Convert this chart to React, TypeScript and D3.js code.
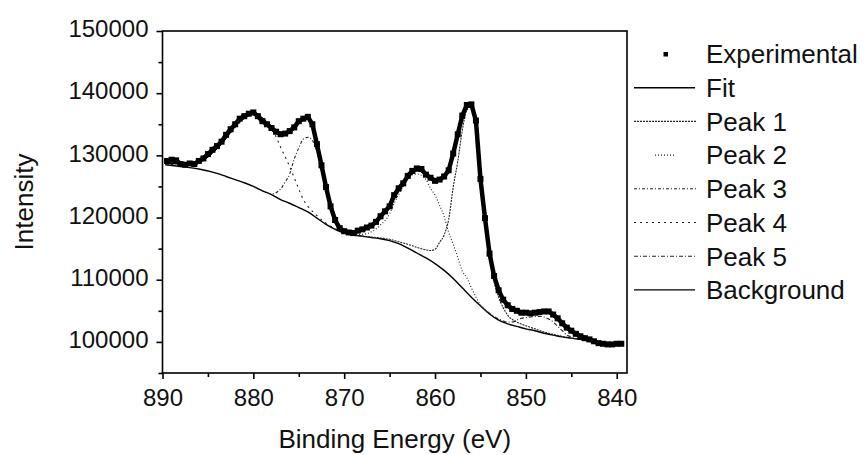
import React, { useEffect, useRef } from 'react'
import * as d3 from 'd3'

const width = 867
const height = 455
const plot = { left: 162.5, right: 627, top: 31, bottom: 373 }
const font = 'Liberation Sans, Arial, sans-serif'

const xTicks = [890, 880, 870, 860, 850, 840]
const xMinor = [885, 875, 865, 855, 845]
const yTicks = [100000, 110000, 120000, 130000, 140000, 150000]
const yMinor = [95000, 105000, 115000, 125000, 135000, 145000]

const legendLabels = ['Experimental', 'Fit', 'Peak 1', 'Peak 2', 'Peak 3', 'Peak 4', 'Peak 5', 'Background']

// [binding energy, intensity]
const experimental: [number, number][] = [
  [889.5, 129100], [889, 129300], [888.5, 129200], [888, 128600], [887.5, 128500], [887, 128700],
  [886.5, 128600], [886, 129100], [885.5, 129500], [885, 130200], [884.5, 130900], [884, 131500],
  [883.5, 132200], [883, 133300], [882.5, 134200], [882, 135000], [881.5, 135900], [881, 136300],
  [880.5, 136700], [880, 136900], [879.5, 136300], [879, 135500], [878.5, 135000], [878, 134400],
  [877.5, 133800], [877, 133400], [876.5, 133500], [876, 133900], [875.5, 134500], [875, 135500],
  [874.5, 135900], [874, 136200], [873.5, 135000], [873, 131800], [872.5, 128400], [872, 124900],
  [871.5, 121800], [871, 119600], [870.5, 118300], [870, 117800], [869.5, 117600], [869, 117500],
  [868.5, 117900], [868, 118100], [867.5, 118400], [867, 118700], [866.5, 119300], [866, 120200],
  [865.5, 121000], [865, 121800], [864.5, 123600], [864, 124700], [863.5, 125500], [863, 126700],
  [862.5, 127500], [862, 127900], [861.5, 127800], [861, 126900], [860.5, 126400], [860, 125900],
  [859.5, 126100], [859, 126600], [858.5, 127600], [858, 130300], [857.5, 133400], [857, 136400],
  [856.5, 138100], [856, 138200], [855.5, 135600], [855, 126200], [854.5, 119900], [854, 114200],
  [853.5, 110600], [853, 108300], [852.5, 106800], [852, 105900], [851.5, 105300], [851, 105000],
  [850.5, 104700], [850, 104700], [849.5, 104600], [849, 104700], [848.5, 104800], [848, 104900],
  [847.5, 104900], [847, 104400], [846.5, 103800], [846, 103000], [845.5, 102300], [845, 101800],
  [844.5, 101300], [844, 100900], [843.5, 100600], [843, 100400], [842.5, 100100], [842, 99800],
  [841.5, 99700], [841, 99600], [840.5, 99600], [840, 99700], [839.5, 99700],
]

const fit: [number, number][] = [
  [889.7, 128700], [889, 128700], [888, 128600], [887, 128600], [886, 128900], [885, 129800],
  [884, 131100], [883, 132800], [882, 134700], [881, 136100], [880, 136700], [879, 136000],
  [878, 134600], [877, 133500], [876, 133700], [875, 135200], [874.5, 135800], [874, 135900],
  [873.5, 134800], [873, 131700], [872.5, 128400], [872, 125000], [871.5, 121900], [871, 119700],
  [870.5, 118500], [870, 117900], [869, 117600], [868, 117900], [867, 118500], [866, 120000],
  [865, 121900], [864, 124300], [863, 126300], [862, 127500], [861.5, 127400], [861, 126800],
  [860.5, 126200], [860, 125800], [859.5, 125900], [859, 126500], [858.5, 127700], [858, 130200],
  [857.5, 133300], [857, 136300], [856.5, 138000], [856, 138000], [855.5, 135500], [855, 126500],
  [854.5, 120000], [854, 114300], [853.5, 110600], [853, 108300], [852.5, 106800], [852, 105800],
  [851, 105000], [850, 104600], [849, 104600], [848, 104700], [847, 104300], [846, 103100],
  [845, 101900], [844, 101000], [843, 100400], [842, 100000], [841, 99800], [840, 99600], [839.5, 99600],
]

const background: [number, number][] = [
  [889.7, 128500], [888, 128200], [886, 127800], [884, 127100], [883, 126600], [882, 126100],
  [881, 125600], [880, 125000], [879, 124300], [878, 123700], [877, 122900], [876, 122300],
  [875, 121600], [874, 120900], [873, 119900], [872, 118900], [871, 118100], [870, 117500],
  [869, 117200], [868, 117000], [867, 116800], [866, 116600], [865, 116300], [864, 115800],
  [863, 115100], [862, 114300], [861, 113500], [860, 112600], [859, 111500], [858, 110200],
  [857, 108700], [856, 107200], [855, 105800], [854, 104500], [853, 103500], [852, 102900],
  [851, 102500], [850, 102100], [849, 101800], [848, 101400], [847, 101100], [846, 100800],
  [845, 100600], [844, 100400], [843, 100100], [842, 99900], [841, 99700], [840, 99600], [839.5, 99600],
]

const peak1: [number, number][] = [
  [870, 117500], [868, 117000], [866, 116700], [865, 116500], [864, 116100], [863, 115700],
  [862, 115200], [861, 114800], [860.5, 114700], [860, 114900], [859.5, 116000], [859, 117200],
  [858.5, 119700], [858, 124900], [857.5, 129000], [857, 134000], [856.5, 137300], [856, 137800],
  [855.5, 135300], [855, 126000], [854.5, 119400], [854, 113700], [853.5, 109700], [853, 107200],
  [852.5, 105500], [852, 104300], [851, 103200], [850, 102600], [849, 102100], [848, 101600],
  [847, 101200], [846, 100900], [845, 100600], [844, 100400], [843, 100100], [842, 99900],
  [841, 99700], [840, 99600],
]

const peak2: [number, number][] = [
  [870, 117500], [869, 117300], [868, 117300], [867, 117700], [866, 118800],
  [865, 120600], [864.5, 122300], [864, 123700], [863.5, 125000], [863, 126300], [862.5, 126900],
  [862, 127000], [861.5, 126800], [861, 126100], [860.5, 124700], [860, 123600], [859.5, 122000],
  [859, 120200], [858.5, 117600], [858, 115700], [857.5, 113600], [857, 111400], [856.5, 110300],
  [856, 108700], [855.5, 107200], [855, 105900], [854, 104500],
]

const peak3: [number, number][] = [
  [880, 125000], [879, 124300], [878, 123800], [877.5, 124000], [877, 124600], [876.5, 125700],
  [876, 127000], [875.5, 129400], [875, 131200], [874.5, 132600], [874, 132900], [873.5, 132400],
  [873, 130600], [872.5, 127700], [872, 124300], [871.5, 121300], [871, 119200], [870.5, 118200],
  [870, 117600], [869, 117200],
]

const peak4: [number, number][] = [
  [889.7, 128600], [888, 128500], [887, 128500], [886, 128900], [885, 129800], [884, 131100],
  [883, 132700], [882, 134500], [881, 135900], [880.5, 136400], [880, 136500], [879.5, 136200],
  [879, 135700], [878.5, 135000], [878, 134200], [877.5, 133000], [877, 131300], [876.5, 129800],
  [876, 128200], [875.5, 126400], [875, 124600], [874.5, 122900], [874, 121800], [873.5, 121000],
  [873, 120300], [872, 119100], [871, 118200], [870, 117600],
]

const peak5: [number, number][] = [
  [855, 105800], [854, 104600], [853, 103700], [852, 103200], [851.5, 103200], [851, 103500],
  [850.5, 103800], [850, 103900], [849.5, 104000], [849, 104100], [848.5, 104100], [848, 104000],
  [847.5, 103700], [847, 103200], [846.5, 102500], [846, 101800], [845.5, 101100], [845, 100800],
  [844, 100400], [843, 100100],
]

const peakDashes = ['2,1', '1,2,1,2,1,2,1,2,1,2,1,2,1,22', '3,2,1,2', '2,4', '4,2,1,2']

export default function App() {
  const xAxisRef = useRef<SVGGElement>(null)
  const yAxisRef = useRef<SVGGElement>(null)

  const x = d3.scaleLinear().domain([890, 838.87]).range([plot.left, plot.right])
  const y = d3.scaleLinear().domain([95000, 150000]).range([plot.bottom, plot.top])

  const line = d3.line<[number, number]>()
    .x(d => x(d[0]))
    .y(d => y(d[1]))
    .curve(d3.curveMonotoneX)
  const rawLine = d3.line<[number, number]>().x(d => x(d[0])).y(d => y(d[1]))

  useEffect(() => {
    const gx = d3.select(xAxisRef.current!)
    gx.selectAll('*').remove()
    gx.call(d3.axisBottom(x).tickValues(xTicks).tickSize(6).tickPadding(10).tickSizeOuter(0).tickFormat(d3.format('d')))
    gx.append('g').call(d3.axisBottom(x).tickValues(xMinor).tickSize(4).tickSizeOuter(0).tickFormat(() => ''))
    gx.selectAll('.domain').remove()
    gx.attr('font-family', font).attr('font-size', 24)
    gx.selectAll('line').attr('stroke', '#000').attr('stroke-width', 1.6)
    gx.selectAll('text').attr('fill', '#111')

    const gy = d3.select(yAxisRef.current!)
    gy.selectAll('*').remove()
    gy.call(d3.axisLeft(y).tickValues(yTicks).tickSize(6).tickPadding(8).tickSizeOuter(0).tickFormat(d3.format('d')))
    gy.append('g').call(d3.axisLeft(y).tickValues(yMinor).tickSize(4).tickSizeOuter(0).tickFormat(() => ''))
    gy.selectAll('.domain').remove()
    gy.attr('font-family', font).attr('font-size', 24)
    gy.selectAll('line').attr('stroke', '#000').attr('stroke-width', 1.6)
    gy.selectAll('text').attr('fill', '#111').attr('dy', '0.24em')
  }, [])

  const peaks = [peak1, peak2, peak3, peak4, peak5]
  const rowY = (i: number) => 54 + i * 33.7

  return (
    <svg width={width} height={height} style={{ position: 'absolute', left: 0, top: 0, background: '#fff' }}>
      <defs>
        <clipPath id="plotClip">
          <rect x={plot.left} y={plot.top} width={plot.right - plot.left} height={plot.bottom - plot.top} />
        </clipPath>
      </defs>

      <g clipPath="url(#plotClip)" fill="none">
        <path d={line(background)!} stroke="#000" strokeWidth={1.4} />
        {peaks.map((p, i) => (
          <path key={i} d={line(p)!} stroke="#222" strokeWidth={1.1} strokeDasharray={i === 1 ? '1,2' : peakDashes[i]} />
        ))}
        <path d={line(fit)!} stroke="#000" strokeWidth={1.4} />
        <path d={rawLine(experimental)!} stroke="#000" strokeWidth={4.5} strokeLinejoin="round" />
        {experimental.map((d, i) => (
          <rect key={i} x={x(d[0]) - 3} y={y(d[1]) - 3} width={6} height={6} fill="#000" />
        ))}
      </g>

      <rect x={plot.left} y={plot.top} width={plot.right - plot.left} height={plot.bottom - plot.top}
        fill="none" stroke="#000" strokeWidth={1.6} />
      <g ref={xAxisRef} transform={`translate(0,${plot.bottom})`} />
      <g ref={yAxisRef} transform={`translate(${plot.left},0)`} />

      <text x={(plot.left + plot.right) / 2} y={448} textAnchor="middle" fontFamily={font} fontSize={26} fill="#111">
        Binding Energy (eV)
      </text>
      <text transform={`translate(33,${(plot.top + plot.bottom) / 2}) rotate(-90)`} textAnchor="middle"
        fontFamily={font} fontSize={26} fill="#111">
        Intensity
      </text>

      <g fontFamily={font} fontSize={26} fill="#111">
        {legendLabels.map((label, i) => {
          const cy = rowY(i)
          let sample
          if (i === 0) {
            sample = <rect x={663.5} y={cy - 2} width={4.5} height={4.5} fill="#000" />
          } else if (i === 1 || i === 7) {
            sample = <line x1={634} x2={695} y1={cy} y2={cy} stroke="#000" strokeWidth={1.4} />
          } else {
            sample = <line x1={634} x2={696} y1={cy} y2={cy} stroke="#222" strokeWidth={1.1}
              strokeDasharray={peakDashes[i - 2]} strokeDashoffset={i === 3 ? 20 : 0} />
          }
          return (
            <g key={label}>
              {sample}
              <text x={706} y={cy} dy="0.36em">{label}</text>
            </g>
          )
        })}
      </g>
    </svg>
  )
}
